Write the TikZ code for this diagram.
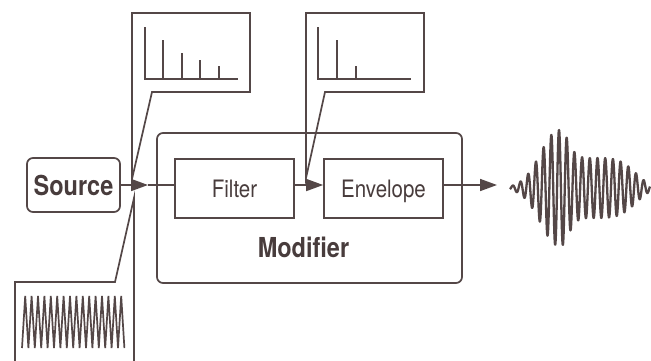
\documentclass[tikz,border=0pt]{standalone}
\usepackage{fontspec}
\setsansfont{TeX Gyre Heros}
\usetikzlibrary{arrows.meta}
\definecolor{ink}{RGB}{84,71,71}
\definecolor{inktext}{RGB}{72,60,60}
% text set slightly taller than wide
\newcommand{\stretchtxt}[1]{\scalebox{1}[1.17]{#1}}
\begin{document}
\begin{tikzpicture}[x=1pt,y=-1pt,
  line join=miter,
  declare function={
    sq(\t)=\t*\t;
    env(\t)=(\t<49) ? 58*exp(-sq((\t-49)/26)) : 34*exp(-sq((\t-49)/12)) + 30*exp(-sq(sq((\t-82)/48)));
  },
  block/.style={draw=ink, line width=1.7pt, minimum width=119pt, minimum height=59pt,
    inner sep=0pt, text height=17.2pt, text depth=0pt, text=inktext,
    font=\sffamily\fontsize{20.5}{24}\selectfont},
  roundbox/.style={draw=ink, line width=1.7pt, rounded corners=6pt, inner sep=0pt},
  boldtext/.style={inner sep=0pt, text height=20pt, text depth=0pt, text=inktext,
    font=\sffamily\bfseries\fontsize{23.5}{28}\selectfont},
  flow/.style={draw=ink, line width=1.7pt},
  tip/.style={flow, -{Triangle[length=17pt,width=12pt]}, fill=ink},
  callout/.style={draw=ink, line width=1.7pt},
  spec/.style={draw=ink, line width=1.7pt},
  wave/.style={draw=ink, line width=2.3pt, line join=round}
]
\fill[white] (0,0) rectangle (651,360);
\useasboundingbox (0,0) rectangle (651,360);

% boxes
\node[roundbox, minimum width=305pt, minimum height=150pt] (modifier) at (309.5,208) {};
\node[roundbox, boldtext, minimum width=93pt, minimum height=54pt] (source) at (73.5,185) {\stretchtxt{Source}};
\node[block] (filter) at (234.5,188.5) {\stretchtxt{Filter}};
\node[block] (envelope) at (383.5,188.5) {\stretchtxt{Envelope}};
\node[boldtext] (modlabel) at (303.5,247) {\stretchtxt{Modifier}};

% signal flow
\coordinate (srctip) at (148,185);
\coordinate (outtip) at (497,185);
\draw[tip] (source.east) -- (srctip);
\draw[flow] (srctip) -- ([yshift=3.5pt]filter.west);
\draw[tip] ([yshift=3.5pt]filter.east) -- ([yshift=3.5pt]envelope.west);
\draw[tip] ([yshift=3.5pt]envelope.east) -- (outtip);

% callout: spectrum of the source
\coordinate (calloutA) at (132,179);
\draw[callout] (calloutA) -- (132,13) -- (250,13) -- (250,92) -- (152,92) -- cycle;
\draw[spec] (145,27) -- (145,79) -- (238,79);
\draw[spec] (163,79) -- (163,40);
\draw[spec] (182,79) -- (182,53);
\draw[spec] (200,79) -- (200,60);
\draw[spec] (219,79) -- (219,66);

% callout: spectrum after the filter
\coordinate (calloutB) at (306,178);
\draw[callout] (calloutB) -- (306,13) -- (424,13) -- (424,92) -- (325,92) -- cycle;
\draw[spec] (318,27) -- (318,79) -- (411,79);
\draw[spec] (337,79) -- (337,40);
\draw[spec] (356,79) -- (356,66);

% callout: source waveform
\coordinate (calloutC) at (134,198);
\draw[callout] (15,361) -- (15,282) -- (115,282) -- (calloutC) -- (134,361);
\draw[spec, line join=miter] (22,348)
  \foreach \k in {0,...,15} { -- ({25.2+6.4*\k},296) -- ({28.4+6.4*\k},348) };

% output waveform
\draw[wave] plot[domain=0:140, samples=700, variable=\u]
  ({510+\u}, {188 - env(\u)*cos(46.753*(\u-49))});
\end{tikzpicture}
\end{document}
